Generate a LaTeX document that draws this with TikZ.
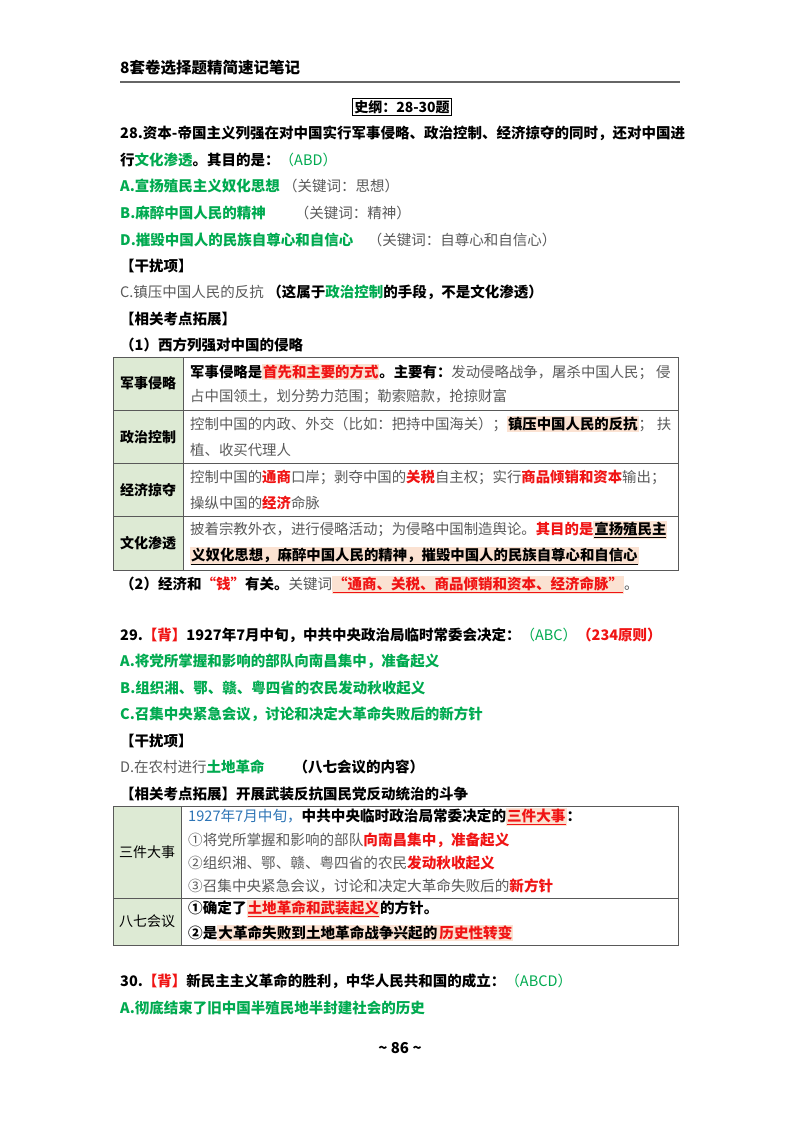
\documentclass[tikz,border=0pt]{standalone}
\usepackage{fontspec}
\setmainfont{Noto Sans CJK SC}
\definecolor{gr}{RGB}{0,170,80}
\definecolor{rd}{RGB}{240,20,20}
\definecolor{gy}{RGB}{90,90,90}
\definecolor{bl}{RGB}{46,117,182}
\definecolor{hlc}{RGB}{251,226,210}
\definecolor{cell}{RGB}{221,234,212}
\newcommand{\G}[1]{\textcolor{gr}{\bfseries #1}}
\newcommand{\R}[1]{\textcolor{rd}{\bfseries #1}}
\newcommand{\Y}[1]{\textcolor{gy}{\mdseries #1}}
\newcommand{\hlx}[1]{{\setlength{\fboxsep}{1pt}\colorbox{hlc}{#1}}}
\begin{document}
\begin{tikzpicture}[x=1pt,y=-1pt,
  t/.style={anchor=west,inner sep=0pt,font=\fontsize{14.5}{16}\selectfont\bfseries},
  s/.style={anchor=west,inner sep=0pt,font=\fontsize{14.4}{15}\selectfont\bfseries},
  s2/.style={anchor=west,inner sep=0pt,font=\fontsize{14.6}{15}\selectfont\bfseries},
  hd/.style={anchor=center,inner sep=0pt,font=\fontsize{14}{16}\selectfont\bfseries}]
\useasboundingbox (0,0) rectangle (800,1132);
\fill[white] (0,0) rectangle (800,1132);
% header
\node[t,font=\fontsize{15.5}{17}\selectfont\bfseries] (hdr) at (120,68) {8套卷选择题精简速记笔记};
\draw[line width=1.2pt,gray!80!black] (120,82) -- (680,82);
\node[draw,line width=0.8pt,inner sep=2pt,font=\fontsize{14}{16}\selectfont\bfseries] (ttl) at (402,107) {史纲：28-30题};
% Q28
\node[t] (q1) at (120,133) {28.资本-帝国主义列强在对中国实行军事侵略、政治控制、经济掠夺的同时，还对中国进};
\node[t] (q2) at (120,160) {行\G{文化渗透}。其目的是：\textcolor{gr}{\mdseries （ABD）}};
\node[t] (qa) at (120,186) {\G{A.宣扬殖民主义奴化思想}\ \Y{（关键词：思想）}};
\node[t] (qb) at (120,213) {\G{B.麻醉中国人民的精神}\qquad\Y{（关键词：精神）}};
\node[t] (qd) at (120,240) {\G{D.摧毁中国人的民族自尊心和自信心}\quad\Y{（关键词：自尊心和自信心）}};
\node[t] (g1) at (120,266) {【干扰项】};
\node[t] (qc) at (120,292) {\Y{C.镇压中国人民的反抗}\ （这属于\G{政治控制}的手段，不是文化渗透）};
\node[t] (x1) at (120,319) {【相关考点拓展】};
\node[t] (x2) at (120,345) {（1）西方列强对中国的侵略};
% table 1
\fill[cell] (113,357) rectangle (183,570);
\draw[line width=0.9pt,gray!70!black] (113,357) rectangle (678,570);
\foreach \yy in {410,463,516} \draw[line width=0.9pt,gray!70!black] (113,\yy) -- (678,\yy);
\draw[line width=0.9pt,gray!70!black] (183,357) -- (183,570);
\node[hd] (c1) at (148,383) {军事侵略};
\node[hd] (c2) at (148,437) {政治控制};
\node[hd] (c3) at (148,490) {经济掠夺};
\node[hd] (c4) at (148,543) {文化渗透};
\node[s] (r1a) at (190,372) {军事侵略是\hlx{\R{首先和主要的方式}}。主要有：\Y{发动侵略战争，屠杀中国人民；\ 侵}};
\node[s] (r1b) at (190,397) {\Y{占中国领土，划分势力范围；勒索赔款，抢掠财富}};
\node[s] (r2a) at (190,424) {\Y{控制中国的内政、外交（比如：把持中国海关）；}\hlx{镇压中国人民的反抗}\Y{；\hspace{4pt}扶}};
\node[s] (r2b) at (190,450) {\Y{植、收买代理人}};
\node[s] (r3a) at (190,477) {\Y{控制中国的}\R{通商}\Y{口岸；剥夺中国的}\R{关税}\Y{自主权；实行}\R{商品倾销和资本}\Y{输出；}};
\node[s] (r3b) at (190,503) {\Y{操纵中国的}\R{经济}\Y{命脉}};
\node[s] (r4a) at (190,530) {\Y{披着宗教外衣，进行侵略活动；为侵略中国制造舆论。}\R{其目的是}\hlx{\underline{宣扬殖民主}}};
\node[s] (r4b) at (190,556) {\hlx{\underline{义奴化思想，麻醉中国人民的精神，摧毁中国人的民族自尊心和自信心}}};
\node[t] (e2) at (120,585) {（2）经济和\R{“钱”}有关。\Y{关键词}\hlx{\textcolor{rd}{\underline{“通商、关税、商品倾销和资本、经济命脉”}}}\Y{。}};
% Q29
\node[t] (p1) at (120,635) {29.\R{【背】}1927年7月中旬，中共中央政治局临时常委会决定：\textcolor{gr}{\mdseries （ABC）}\R{（234原则）}};
\node[t] (pa) at (120,661) {\G{A.将党所掌握和影响的部队向南昌集中，准备起义}};
\node[t] (pb) at (120,688) {\G{B.组织湘、鄂、赣、粤四省的农民发动秋收起义}};
\node[t] (pc) at (120,714) {\G{C.召集中央紧急会议，讨论和决定大革命失败后的新方针}};
\node[t] (g2) at (120,741) {【干扰项】};
\node[t] (pd) at (120,767) {\Y{D.在农村进行}\G{土地革命}\qquad （八七会议的内容）};
\node[t] (x3) at (120,794) {【相关考点拓展】开展武装反抗国民党反动统治的斗争};
% table 2
\fill[cell] (113,806) rectangle (181,945);
\draw[line width=0.9pt,gray!70!black] (113,806) rectangle (678,945);
\draw[line width=0.9pt,gray!70!black] (113,898) -- (678,898);
\draw[line width=0.9pt,gray!70!black] (181,806) -- (181,945);
\node[hd,font=\fontsize{14}{16}\selectfont\mdseries] (d1) at (147,852) {三件大事};
\node[hd,font=\fontsize{14}{16}\selectfont\mdseries] (d2) at (147,921) {八七会议};
\node[s2] (u1) at (188,817) {\textcolor{bl}{\mdseries 1927年7月中旬，}中共中央临时政治局常委决定的\hlx{\R{\underline{三件大事}}}：};
\node[s2] (u2) at (188,840) {\Y{①将党所掌握和影响的部队}\R{向南昌集中，准备起义}};
\node[s2] (u3) at (188,863) {\Y{②组织湘、鄂、赣、粤四省的农民}\R{发动秋收起义}};
\node[s2] (u4) at (188,886) {\Y{③召集中央紧急会议，讨论和决定大革命失败后的}\R{新方针}};
\node[s2] (v1) at (188,909) {①确定了\hlx{\R{\underline{土地革命和武装起义}}}的方针。};
\node[s2] (v2) at (188,933) {②是\hlx{大革命失败到土地革命战争兴起的}\hlx{\R{历史性转变}}};
% Q30
\node[t] (w1) at (120,981) {30.\R{【背】}新民主主义革命的胜利，中华人民共和国的成立：\textcolor{gr}{\mdseries （ABCD）}};
\node[t] (wa) at (120,1008) {\G{A.彻底结束了旧中国半殖民地半封建社会的历史}};
\node[hd,font=\fontsize{15}{17}\selectfont\bfseries] (pg) at (400,1048) {\textasciitilde{} 86 \textasciitilde{}};
\end{tikzpicture}
\end{document}
